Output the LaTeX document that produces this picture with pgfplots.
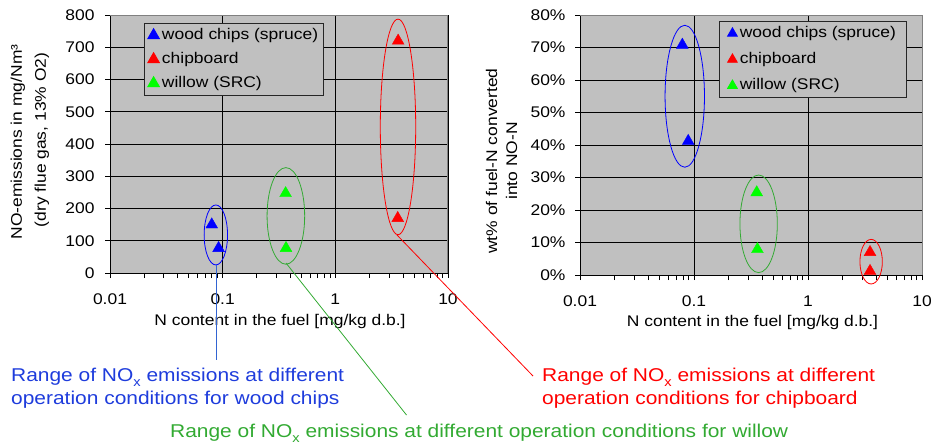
\documentclass[border=0pt]{standalone}
\usepackage{fontspec}
\setmainfont[FakeStretch=1.13]{Liberation Sans}
\usepackage{pgfplots}
\pgfplotsset{compat=1.18}

\definecolor{bg}{RGB}{192,192,192}
\definecolor{framegray}{RGB}{128,128,128}
\definecolor{ellgreen}{RGB}{51,170,51}
\definecolor{txtblue}{RGB}{30,60,220}
\definecolor{txtgreen}{RGB}{50,170,50}
\definecolor{lineblue}{RGB}{50,100,210}
\definecolor{mgreen}{RGB}{0,255,0}

\newcommand{\ticksize}{\fontsize{15.5}{18}\selectfont}
\newcommand{\annsize}{\fontsize{18.6}{22}\selectfont}
\newcommand{\NOx}{NO\raisebox{-0.28em}{\fontsize{13}{13}\selectfont x}}

\pgfplotsset{
  legend image code/.code={\draw[#1] plot coordinates {(0bp,0bp)};},
}

\begin{document}
\begin{tikzpicture}
\path[use as bounding box] (0,0) rectangle (933bp,-446bp);

% ---------------- left axis ----------------
\begin{axis}[
  scale only axis, anchor=south west, at={(110bp,-273bp)}, width=338bp, height=258bp,
  xmode=log, xmin=0.01, xmax=10,
  xtick={0.01,0.1,1,10}, xticklabels={0.01,0.1,1,10},
  extra x ticks={0.02,0.03,0.04,0.05,0.06,0.07,0.08,0.09,0.2,0.3,0.4,0.5,0.6,0.7,0.8,0.9,2,3,4,5,6,7,8,9},
  extra x tick labels={},
  extra x tick style={xmajorgrids=false, major tick length=5bp},
  ymin=0, ymax=800, ytick={0,100,...,800},
  axis background/.style={fill=bg},
  xmajorgrids, ymajorgrids,
  major grid style={black, line width=0.8bp},
  axis line style={black, line width=0.8bp},
  tick style={black, line width=0.8bp},
  tick align=outside, tick pos=left,
  major tick length=5bp,
  tick label style={font=\ticksize},
  xticklabel style={yshift=-12bp},
  yticklabel style={xshift=-7bp},
  /pgf/number format/assume math mode=true,
  clip=false, legend cell align=left,
  legend style={at={(rel axis cs:0.1015,0.968)}, anchor=north west, fill=bg,
    draw=black!85, line width=0.8bp, inner xsep=3bp, inner ysep=4bp, row sep=8.5bp,
    font=\ticksize, nodes={inner xsep=2.5bp, inner ysep=0bp, text height=11.5bp, text depth=4bp}},
  ]
\addplot[only marks, mark=triangle*, mark size=6.8bp, color=blue] coordinates {(0.080,150) (0.092,77)};
\addlegendentry{wood chips (spruce)}
\addplot[only marks, mark=triangle*, mark size=6.8bp, color=red] coordinates {(3.61,720) (3.58,170)};
\addlegendentry{chipboard}
\addplot[only marks, mark=triangle*, mark size=6.8bp, color=mgreen] coordinates {(0.362,247) (0.365,77)};
\addlegendentry{willow (SRC)}
\draw[blue, line width=0.8bp] (axis cs:0.087,118) ellipse [x radius=11.7bp, y radius=30bp];
\draw[ellgreen, line width=0.8bp] (axis cs:0.364,177) ellipse [x radius=18.8bp, y radius=48.3bp];
\draw[red, line width=0.8bp] (axis cs:3.6,453) ellipse [x radius=17.7bp, y radius=107.8bp];
\draw[framegray, line width=1bp] (rel axis cs:0,1) -- (rel axis cs:1,1) -- (rel axis cs:1,0);
\end{axis}

% ---------------- right axis ----------------
\begin{axis}[
  scale only axis, anchor=south west, at={(580bp,-275bp)}, width=342bp, height=260bp,
  xmode=log, xmin=0.01, xmax=10,
  xtick={0.01,0.1,1,10}, xticklabels={0.01,0.1,1,10},
  extra x ticks={0.02,0.03,0.04,0.05,0.06,0.07,0.08,0.09,0.2,0.3,0.4,0.5,0.6,0.7,0.8,0.9,2,3,4,5,6,7,8,9},
  extra x tick labels={},
  extra x tick style={xmajorgrids=false, major tick length=5bp},
  ymin=0, ymax=80, ytick={0,10,...,80},
  yticklabels={0\%,10\%,20\%,30\%,40\%,50\%,60\%,70\%,80\%},
  axis background/.style={fill=bg},
  xmajorgrids, ymajorgrids,
  major grid style={black, line width=0.8bp},
  axis line style={black, line width=0.8bp},
  tick style={black, line width=0.8bp},
  tick align=outside, tick pos=left,
  major tick length=5bp,
  tick label style={font=\ticksize},
  xticklabel style={yshift=-12bp},
  yticklabel style={xshift=-6bp},
  /pgf/number format/assume math mode=true,
  clip=false, legend cell align=left,
  legend style={at={(rel axis cs:0.407,0.978)}, anchor=north west, fill=bg,
    draw=black!85, line width=0.8bp, inner xsep=8bp, inner ysep=4.5bp, row sep=10.6bp,
    font=\ticksize, nodes={inner xsep=2.5bp, inner ysep=0bp, text height=11.5bp, text depth=4bp}},
  legend image post style={mark size=5.6bp},
  ]
\addplot[only marks, mark=triangle*, mark size=6.8bp, color=blue] coordinates {(0.079,70.8) (0.089,41.2)};
\addlegendentry{wood chips (spruce)}
\addplot[only marks, mark=triangle*, mark size=6.8bp, color=red] coordinates {(3.5,7.0) (3.5,1.2)};
\addlegendentry{chipboard}
\addplot[only marks, mark=triangle*, mark size=6.8bp, color=mgreen] coordinates {(0.355,25.4) (0.36,7.9)};
\addlegendentry{willow (SRC)}
\draw[blue, line width=0.8bp] (axis cs:0.083,55) ellipse [x radius=19.7bp, y radius=71bp];
\draw[ellgreen, line width=0.8bp] (axis cs:0.369,15.75) ellipse [x radius=18.7bp, y radius=48.8bp];
\draw[red, line width=0.8bp] (axis cs:3.58,4.1) ellipse [x radius=11.2bp, y radius=22.3bp];
\draw[framegray, line width=1bp] (rel axis cs:0,1) -- (rel axis cs:1,1) -- (rel axis cs:1,0);
\end{axis}

% axis labels
\node[rotate=90, font=\ticksize, inner sep=0] at (18bp,-142bp) {NO-emissions in mg/Nm³};
\node[rotate=90, font=\ticksize, inner sep=0] at (42bp,-140bp) {(dry flue gas, 13\% O2)};
\node[rotate=90, font=\ticksize, inner sep=0] at (491.7bp,-161bp) {wt\% of fuel-N converted};
\node[rotate=90, font=\ticksize, inner sep=0] at (511.7bp,-161bp) {into NO-N};
\node[anchor=base, font=\ticksize, inner sep=0] at (280bp,-325bp) {N content in the fuel [mg/kg d.b.]};
\node[anchor=base, font=\ticksize, inner sep=0] at (752.5bp,-326bp) {N content in the fuel [mg/kg d.b.]};

% callout lines
\draw[lineblue, line width=0.8bp] (216.5bp,-265bp) -- (216.5bp,-360bp);
\draw[ellgreen, line width=0.8bp] (286bp,-263bp) -- (406.5bp,-415bp);
\draw[red, line width=0.8bp] (397bp,-235bp) -- (533bp,-376bp);

% annotations
\node[anchor=base west, inner sep=0, text=txtblue, font=\annsize] at (11bp,-381bp) {Range of \NOx{} emissions at different};
\node[anchor=base west, inner sep=0, text=txtblue, font=\annsize] at (11bp,-404bp) {operation conditions for wood chips};
\node[anchor=base west, inner sep=0, text=red, font=\annsize] at (542bp,-381bp) {Range of \NOx{} emissions at different};
\node[anchor=base west, inner sep=0, text=red, font=\annsize] at (542bp,-404bp) {operation conditions for chipboard};
\node[anchor=base west, inner sep=0, text=txtgreen, font=\annsize] at (170bp,-437bp) {Range of \NOx{} emissions at different operation conditions for willow};
\end{tikzpicture}
\end{document}
